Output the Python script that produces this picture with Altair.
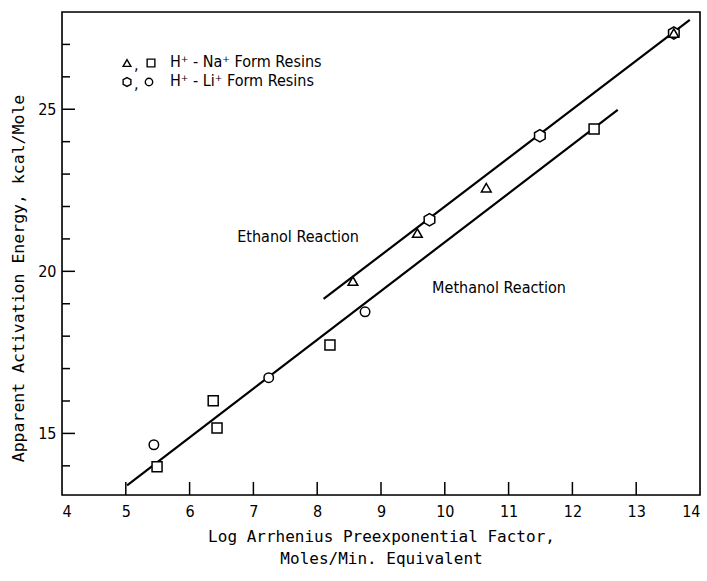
import altair as alt
import pandas as pd

# ---- data ----
meth_sq_x = [5.49, 6.37, 6.43, 8.20, 12.34]
meth_sq_y = [13.97, 16.01, 15.17, 17.73, 24.39]
meth_ci_x = [5.44, 7.24, 8.75]
meth_ci_y = [14.65, 16.72, 18.75]
eth_tri_x = [8.56, 9.57, 10.65, 13.59]
eth_tri_y = [19.70, 21.18, 22.58, 27.35]
eth_hex_x = [9.76, 11.49, 13.59]
eth_hex_y = [21.59, 24.18, 27.35]

line_name = ["Methanol", "Methanol", "Ethanol", "Ethanol"]
line_x = [5.02, 12.71, 8.10, 13.84]
line_y = [13.40, 24.98, 19.15, 27.76]

ann_text = ["Ethanol Reaction", "Methanol Reaction"]
ann_x = [7.70, 10.85]
ann_y = [21.06, 19.49]

x_ticks = [5, 6, 7, 8, 9, 10, 11, 12, 13]
x_labels = [4, 5, 6, 7, 8, 9, 10, 11, 12, 13, 14]
y_minor = [14, 16, 17, 18, 19, 21, 22, 23, 24, 26, 27]
y_major = [15, 20, 25]

legend_text = ["H\u207a - Na\u207a Form Resins", "H\u207a - Li\u207a Form Resins"]

HEX = "M 0 -1 L 0.866 -0.5 L 0.866 0.5 L 0 1 L -0.866 0.5 L -0.866 -0.5 Z"
FONT = "DejaVu Sans Condensed"
W, H = 638, 483

xs = alt.Scale(domain=[4, 14], nice=False, zero=False)
ys = alt.Scale(domain=[13.1, 28], nice=False, zero=False)

lines_df = pd.DataFrame({"name": line_name, "x": line_x, "y": line_y})
lines = alt.Chart(lines_df).mark_line(color="black", strokeWidth=2.2).encode(
    x=alt.X("x:Q", scale=xs,
            axis=alt.Axis(values=x_labels, ticks=False, domain=False, grid=False,
                          labelFont=FONT, labelFontSize=16, labelColor="black",
                          labelPadding=8, format="d",
                          title=["Log Arrhenius Preexponential Factor,", "Moles/Min. Equivalent"],
                          titleFont="DejaVu Sans Mono", titleFontSize=16, titleFontWeight="normal",
                          titleColor="black", titleY=33, titleLineHeight=22)),
    y=alt.Y("y:Q", scale=ys,
            axis=alt.Axis(values=y_major, ticks=False, domain=False, grid=False,
                          labelFont=FONT, labelFontSize=16, labelColor="black",
                          labelPadding=6,
                          title="Apparent Activation Energy, kcal/Mole",
                          titleFont="DejaVu Sans Mono", titleFontSize=16.5, titleFontWeight="normal",
                          titleColor="black", titleX=-44, titleY=266, titleBaseline="middle")),
    detail="name:N",
)

frame = alt.Chart(pd.DataFrame({"a": [0]})).mark_rect(
    fill="transparent", stroke="black", strokeWidth=1.6).encode(
    x=alt.value(0), x2=alt.value(W), y=alt.value(0), y2=alt.value(H))

def pts(xv, yv, shape, size):
    df = pd.DataFrame({"x": xv, "y": yv})
    return alt.Chart(df).mark_point(shape=shape, size=size, filled=True, fill="white",
                                    stroke="black", strokeWidth=1.5, opacity=1).encode(
        x=alt.X("x:Q", scale=xs), y=alt.Y("y:Q", scale=ys))

p_sq = pts(meth_sq_x, meth_sq_y, "square", 100)
p_ci = pts(meth_ci_x, meth_ci_y, "circle", 90)
p_hex = pts(eth_hex_x, eth_hex_y, HEX, 150)
p_tri = pts(eth_tri_x, eth_tri_y, "triangle-up", 95)

xt = alt.Chart(pd.DataFrame({"x": x_ticks})).mark_rule(color="black", strokeWidth=1.5).encode(
    x=alt.X("x:Q", scale=xs), y=alt.value(H), y2=alt.value(H - 13))
ytm = alt.Chart(pd.DataFrame({"y": y_minor})).mark_rule(color="black", strokeWidth=1.5).encode(
    y=alt.Y("y:Q", scale=ys), x=alt.value(0), x2=alt.value(8))
ytM = alt.Chart(pd.DataFrame({"y": y_major})).mark_rule(color="black", strokeWidth=1.5).encode(
    y=alt.Y("y:Q", scale=ys), x=alt.value(0), x2=alt.value(13))

ann = alt.Chart(pd.DataFrame({"t": ann_text, "x": ann_x, "y": ann_y})).mark_text(
    font=FONT, fontSize=16, color="black", align="center", baseline="middle").encode(
    x=alt.X("x:Q", scale=xs), y=alt.Y("y:Q", scale=ys), text="t:N")

# legend (drawn in pixel space, like a legend box)
def lsym(shape, px, py, size):
    return alt.Chart(pd.DataFrame({"a": [0]})).mark_point(
        shape=shape, size=size, filled=True, fill="white", stroke="black",
        strokeWidth=1.4, opacity=1).encode(x=alt.value(px), y=alt.value(py))

def ltxt(t, px, py, size=16):
    return alt.Chart(pd.DataFrame({"t": [t]})).mark_text(
        font=FONT, fontSize=size, color="black", align="left", baseline="middle").encode(
        x=alt.value(px), y=alt.value(py), text="t:N")

leg = [
    lsym("triangle-up", 65, 51, 60), ltxt(",", 72, 53), lsym("square", 89, 51, 60),
    ltxt(legend_text[0], 108, 50),
    lsym(HEX, 65, 70, 80), ltxt(",", 72, 72), lsym("circle", 87, 70, 55),
    ltxt(legend_text[1], 108, 69),
]

chart = alt.layer(lines, xt, ytm, ytM, p_sq, p_ci, p_hex, p_tri, ann, frame, *leg).properties(
    width=W, height=H,
    autosize=alt.AutoSizeParams(type="none"),
    padding={"left": 62, "top": 12, "right": 7, "bottom": 86},
).configure_view(stroke="transparent").configure(background="white")

chart.save("out.html", embed_options={"renderer": "svg", "actions": False})
